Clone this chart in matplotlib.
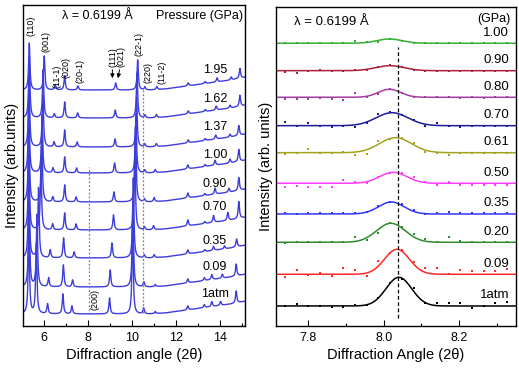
import numpy as np
import matplotlib
matplotlib.use("Agg")
import matplotlib.pyplot as plt
from matplotlib.ticker import MultipleLocator

plt.rcParams["font.family"] = ["Liberation Sans", "DejaVu Sans"]

#########################################################################################################
#! Left panel: stacked XRD patterns (bottom -> top), y in pixel-like units

pressures_left = ["1atm", "0.09", "0.35", "0.70", "0.90", "1.00", "1.37", "1.62", "1.95"]
base_left      = [12, 39, 68, 96, 124, 153, 179, 208, 236]   # baseline offsets
label_y_left   = [32, 59, 85, 119, 142, 171, 199, 227, 256]

# peak positions (2theta) and heights per pattern
p110  = [5.30, 5.31, 5.30, 5.30, 5.30, 5.30, 5.31, 5.32, 5.32]
h110  = [85, 88, 85, 80, 80, 75, 68, 62, 47]
p001  = [5.64, 5.67, 5.74, 5.85, 5.89, 5.90, 5.94, 5.95, 6.00]
h001  = [70, 72, 70, 65, 62, 58, 52, 48, 34]
p11m1 = [6.15, 6.20, 6.27, 6.38, 6.39, 6.40, 6.45, 6.46, 6.50]
h11m1 = [10, 9, 8, 6, 5, 5, 5, 4, 5]
p020  = [6.85, 6.87, 6.88, 6.93, 6.93, 6.93, 6.93, 6.93, 6.93]
h020  = [20, 22, 20, 17, 17, 16, 17, 16, 14]
p20m1 = [7.26, 7.29, 7.36, 7.45, 7.45, 7.47, 7.50, 7.52, 7.53]
h20m1 = [8, 7, 6, 6, 5, 5, 5, 5, 4]
p111  = [8.97, 9.00, 9.08, 9.15, 9.17, 9.20, 9.22, 9.23, 9.25]
h111  = [16, 17, 15, 15, 10, 10, 8, 8, 7]
p22m1 = [10.02, 10.03, 10.05, 10.12, 10.15, 10.17, 10.20, 10.22, 10.25]
h22m1 = [85, 85, 80, 78, 75, 58, 50, 45, 30]
p220  = [10.52, 10.53, 10.55, 10.56, 10.56, 10.57, 10.57, 10.58, 10.58]
h220  = [6, 5, 3, 3, 3, 3, 3, 3, 3]
p11m2 = [11.05, 11.05, 11.00, 10.97, 11.00, 11.05, 11.10, 11.10, 11.12]
h11m2 = [2, 2, 3, 4, 4, 3, 3, 3, 3]
pA    = [12.53, 12.53, 12.53, 12.53, 12.53, 12.53, 12.55, 12.55, 12.55]
hA    = [4, 4, 4, 6, 5, 4, 3, 3, 3]
pE    = [13.28, 13.28, 13.30, 13.30, 13.30, 13.32, 13.32, 13.32, 13.32]
hE    = [3, 3, 2, 2, 2, 2, 2, 2, 2]
pB    = [13.62, 13.62, 13.70, 13.70, 13.77, 13.77, 13.80, 13.82, 13.86]
hB    = [5, 5, 4, 7, 6, 5, 4, 4, 4]
pC    = [14.02, 14.10, 14.20, 14.35, 14.40, 14.45, 14.45, 14.45, 14.50]
hC    = [4, 4, 3, 8, 4, 4, 3, 3, 3]
pD    = [14.73, 14.73, 14.75, 14.85, 14.85, 14.85, 14.85, 14.90, 14.90]
hD    = [12, 12, 8, 17, 13, 12, 10, 11, 10]

# rising background at high angle
bg_x = [5.0, 10.8, 11.5, 12.5, 13.5, 14.5, 15.2]
bg_y = [0, 0, 1, 4, 7, 10, 13]

hkl_labels = ["(110)", "(001)", "(11-1)", "(020)", "(20-1)", "(111)", "(021)", "(22-1)", "(220)", "(11-2)", "(200)"]
hkl_x      = [5.40, 6.08, 6.56, 6.98, 7.61, 9.11, 9.50, 10.31, 10.74, 11.35, 8.29]
hkl_y      = [300, 284, 250, 258, 255, 269, 269, 282, 253, 254, 26]

#! Right panel: (200) region, data points + gaussian fits (bottom -> top)

pressures_right = ["1atm", "0.09", "0.20", "0.35", "0.50", "0.61", "0.70", "0.80", "0.90", "1.00"]
base_right      = [20, 51.7, 83.7, 112, 142.7, 173.3, 200.3, 228.7, 255.3, 282.7]
colors_right    = ["#000000", "#ff2a2a", "#2e8b2e", "#3434ff", "#ff3cff",
                   "#a3a21e", "#1c1c9a", "#a23ca2", "#a8203c", "#33b033"]
fit_center = [8.040, 8.035, 8.019, 8.020, 8.025, 8.031, 8.022, 8.015, 8.016, 8.015]
fit_height = [28.7, 25.0, 19.0, 12.0, 11.0, 15.0, 13.0, 8.0, 5.0, 4.3]
fit_fwhm   = [0.080, 0.078, 0.090, 0.080, 0.085, 0.100, 0.100, 0.070, 0.090, 0.080]

x_dots = [7.738, 7.769, 7.800, 7.831, 7.862, 7.893, 7.924, 7.955, 7.986, 8.017,
          8.048, 8.079, 8.110, 8.141, 8.172, 8.203, 8.234, 8.265, 8.296, 8.327]
d_1atm = [-0.5, 2.0, 0.0, -0.5, -1.0, -1.0, 0.7, 0.7, 7.7, 22.7, 27.0, 17.7, 2.7, 2.7, 3.3, 2.7, -1.7, 0.3, 2.7, 3.7]
d_009  = [-2.3, 4.3, -0.7, 1.0, -1.7, 6.0, 4.3, -1.3, 13.3, 21.7, 24.0, 12.7, 6.0, 6.0, 0.0, 4.3, 3.3, 3.3, 3.3, 5.0]
d_020  = [-1.0, 0.0, 0.0, 0.0, 0.0, 0.0, 5.0, 2.3, 9.0, 19.0, 15.7, 8.3, 3.0, 0.7, 5.0, 1.3, 0.0, 0.0, 0.0, 0.0]
d_035  = [0.7, 0.0, 0.7, 0.7, 1.3, 1.3, 1.3, 2.3, 8.0, 12.3, 10.0, 4.0, 0.0, 1.3, 2.3, 0.7, 0.7, 0.7, 0.7, 0.7]
d_050  = [-4.0, -2.7, -4.0, -4.0, -4.0, 3.3, 1.7, 0.0, 6.7, 10.7, 10.0, 6.7, 1.7, -1.7, 1.7, -1.7, -1.7, -1.7, -1.7, -1.7]
d_061  = [-1.3, 0.0, 3.7, 0.0, 0.0, 1.0, -2.3, -1.3, 11.7, 13.3, 15.0, 10.0, 1.0, 0.0, -2.3, 0.0, 0.0, 0.0, 0.0, 0.0]
d_070  = [3.3, 0.0, 3.0, 0.0, -1.0, 0.0, -1.0, 3.0, 11.7, 13.3, 10.7, 5.7, 0.0, 2.3, 0.0, -1.0, 0.0, 0.0, 0.0, 0.0]
d_080  = [-1.7, -1.7, -1.7, -1.0, -1.7, -2.7, 4.0, 0.7, 3.3, 8.0, 4.0, 0.7, 0.0, 0.0, 0.0, -1.0, 0.0, -1.0, 0.0, 0.0]
d_090  = [-1.0, -2.0, 0.0, 0.7, 0.0, 0.0, 0.7, 0.7, 4.0, 5.7, 4.0, 0.7, 0.0, 0.0, 0.0, 0.0, 0.0, 0.0, 0.0, 0.0]
d_100  = [0.0, 0.0, 0.7, 0.0, 0.0, 0.0, 2.7, 1.7, 1.7, 4.3, 2.7, 0.7, 0.0, 0.7, 0.0, 0.0, 0.0, 0.7, 0.7, 0.7]
dots_right = [d_1atm, d_009, d_020, d_035, d_050, d_061, d_070, d_080, d_090, d_100]

#########################################################################################################

BLUE = "#3d3ddc"
HW   = 0.035   # lorentzian half width for left patterns


def lorentz(x, x0, h, w=HW):
    return h / (1 + ((x - x0) / w) ** 2)


fig = plt.figure(figsize=(5.19, 3.72), dpi=100)
ax1 = fig.add_axes([0.0437, 0.1237, 0.4283, 0.8629])
ax2 = fig.add_axes([0.5318, 0.1237, 0.4624, 0.8567])

# --- LEFT ---
xs = np.linspace(5.0, 15.2, 4000)
peak_sets = [(p110, h110), (p001, h001), (p11m1, h11m1), (p020, h020), (p20m1, h20m1),
             (p111, h111), (p22m1, h22m1), (p220, h220), (p11m2, h11m2),
             (pA, hA), (pE, hE), (pB, hB), (pC, hC), (pD, hD)]
bg = np.interp(xs, bg_x, bg_y)
for i, p in enumerate(pressures_left):
    ys = base_left[i] + bg
    for pos, hts in peak_sets:
        ys = ys + lorentz(xs, pos[i], hts[i])
    ax1.plot(xs, ys, color=BLUE, lw=1.0)
    ax1.text(13.76, label_y_left[i], p, fontsize=9, ha="center", va="center")

# dotted guide lines
ax1.plot([8.04, 8.04], [12, 159], color="gray", ls=(0, (1.5, 1.5)), lw=0.9)
ax1.plot([10.51, 10.51], [13, 236], color="gray", ls=(0, (1.5, 1.5)), lw=0.9)

for lab, x, y in zip(hkl_labels, hkl_x, hkl_y):
    ax1.text(x, y, lab, rotation=90, fontsize=6.5, ha="center", va="center")

# arrows for (111) / (021)
ax1.annotate("", xy=(9.10, 245), xytext=(9.10, 259),
             arrowprops=dict(arrowstyle="-|>", color="black", lw=0.7, mutation_scale=6))
ax1.annotate("", xy=(9.33, 245), xytext=(9.45, 259),
             arrowprops=dict(arrowstyle="-|>", color="black", lw=0.7, mutation_scale=6))

ax1.text(6.82, 310, "λ = 0.6199 Å", fontsize=9, ha="left", va="center")
ax1.text(15.05, 310, "Pressure (GPa)", fontsize=9, ha="right", va="center")

ax1.set_xlim(5.02, 15.13)
ax1.set_ylim(0, 321)
ax1.set_yticks([])
ax1.xaxis.set_major_locator(MultipleLocator(2))
ax1.xaxis.set_minor_locator(MultipleLocator(1))
ax1.tick_params(axis="x", which="major", direction="in", length=4, width=0.8, labelsize=9, pad=4)
ax1.tick_params(axis="x", which="minor", direction="in", length=2.5, width=0.8)
ax1.set_xlabel("Diffraction angle (2θ)", fontsize=10.5, labelpad=3)
ax1.set_ylabel("Intensity (arb.units)", fontsize=10.5, labelpad=3)

# --- RIGHT ---
xf = np.linspace(7.70, 8.36, 600)
for i, p in enumerate(pressures_right):
    c = colors_right[i]
    sig = fit_fwhm[i] / 2.3548
    yf = base_right[i] + fit_height[i] * np.exp(-0.5 * ((xf - fit_center[i]) / sig) ** 2)
    ax2.plot(xf, yf, color=c, lw=1.1)
    ax2.plot(x_dots, np.array(dots_right[i]) + base_right[i], "s", color=c, ms=2.1, mew=0)
    ax2.text(8.333, base_right[i] + 10.5, p, fontsize=9.5, ha="right", va="center")

ax2.plot([8.037, 8.037], [8, 279], color="black", ls=(0, (3, 2)), lw=0.9)
ax2.text(7.762, 304, "λ = 0.6199 Å", fontsize=9.5, ha="left", va="center")
ax2.text(8.336, 307, "(GPa)", fontsize=9, ha="right", va="center")

ax2.set_xlim(7.714, 8.351)
ax2.set_ylim(0, 318.7)
ax2.set_yticks([])
ax2.xaxis.set_major_locator(MultipleLocator(0.2))
ax2.xaxis.set_minor_locator(MultipleLocator(0.1))
ax2.tick_params(axis="x", which="major", direction="in", length=4, width=0.8, labelsize=9, pad=4)
ax2.tick_params(axis="x", which="minor", direction="in", length=2.5, width=0.8)
ax2.set_xlabel("Diffraction Angle (2θ)", fontsize=10.5, labelpad=3)
ax2.set_ylabel("Intensity (arb. units)", fontsize=10.5, labelpad=2)

for ax in (ax1, ax2):
    for s in ax.spines.values():
        s.set_linewidth(1.0)

plt.savefig("out.png", dpi=100)
plt.close()
